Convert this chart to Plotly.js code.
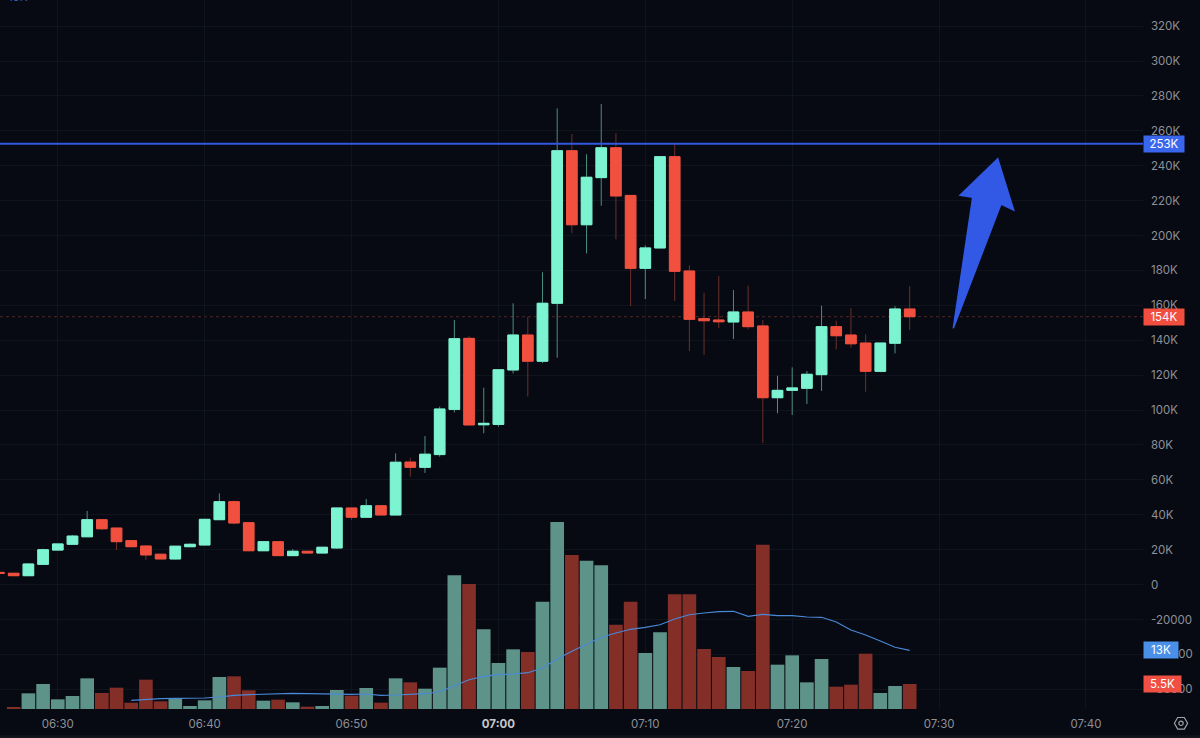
<!DOCTYPE html>
<html>
<head>
<meta charset="utf-8">
<script src="https://cdn.plot.ly/plotly-3.0.1.min.js"></script>
<style>html,body{margin:0;padding:0;background:#070a12;overflow:hidden}#chart{width:1200px;height:738px}</style>
</head>
<body>
<div id="chart"></div>
<script>
const minutes = ["06:26","06:27","06:28","06:29","06:30","06:31","06:32","06:33","06:34","06:35","06:36","06:37","06:38","06:39","06:40","06:41","06:42","06:43","06:44","06:45","06:46","06:47","06:48","06:49","06:50","06:51","06:52","06:53","06:54","06:55","06:56","06:57","06:58","06:59","07:00","07:01","07:02","07:03","07:04","07:05","07:06","07:07","07:08","07:09","07:10","07:11","07:12","07:13","07:14","07:15","07:16","07:17","07:18","07:19","07:20","07:21","07:22","07:23","07:24","07:25","07:26","07:27","07:28"];
const opens = [7000,6500,5100,11600,19800,23100,27400,37200,32400,25200,22100,17400,14700,21700,22700,37200,47500,35500,19400,24600,16600,19100,18100,21000,43900,38600,45200,39900,70200,67200,74500,100400,141100,91600,91800,123000,143000,128000,161200,248600,206200,233200,250300,223000,181200,192900,245200,179700,152400,151600,150500,156200,148200,107100,111300,112500,120300,147800,143000,138400,122200,138300,157900];
const highs = [7000,6600,12200,20600,23300,28400,42200,37200,32400,25200,22100,17400,22000,23500,37400,52300,48300,35500,24600,24600,20400,19100,21400,43900,43900,49000,45200,75200,72700,85100,102000,151600,142400,112800,123100,161200,153500,179000,272900,258200,246600,275400,258600,223000,194400,245200,252800,183000,167300,176800,168800,171300,151600,119700,124500,122400,159800,151200,158300,143400,138400,159500,171000];
const lows = [6500,5100,5100,11600,19800,23100,27400,31300,19800,21700,14100,14700,14300,21700,22700,37200,34500,19400,19400,16600,16600,18100,18100,20400,37100,38200,39900,39900,61800,64000,73300,98700,91500,86700,90500,121000,107700,127000,130000,201300,189800,217100,197800,159600,163600,192900,162500,133800,131600,146900,140700,146300,81000,98200,97200,103500,111000,134800,135700,110500,121700,132500,145900];
const closes = [6500,5100,11800,20000,23300,27800,37200,32000,24600,21700,17000,14700,22000,23100,37400,47500,35300,19400,24600,16600,19100,18100,21400,43900,38600,45200,39900,70100,67200,74700,100600,140900,91500,92400,123100,143000,128000,161200,248600,206200,233400,250300,222700,181200,192900,245200,179500,152000,151200,150600,156200,147800,107100,111300,112700,120500,147800,142600,138000,122200,138400,157900,153500];
const volumes = [null,443,3470,5537,2141,2880,6792,3544,4725,1403,6497,1698,2436,664,1920,7088,7235,4134,1846,2067,1477,517,664,4208,2953,4651,1403,6792,5906,4504,9155,29606,27686,17645,10188,13215,12625,23773,41419,34109,32854,31821,18679,23773,12403,16981,25397,25397,13289,11517,9302,8417,36398,9819,11886,5906,11074,4947,5390,12256,3544,5094,5537];
const volumeMA = [null,null,null,null,null,null,null,null,null,1920,2141,2289,2363,2363,2436,2658,3027,3175,3285,3396,3470,3396,3322,3249,3249,3322,3027,3101,3249,3396,3839,5242,6497,7235,7605,7752,8047,9081,11074,12773,14249,15873,16833,17645,18088,18679,19934,20894,21263,21558,21632,20525,20968,20672,20672,20377,20303,19270,17498,16390,15061,13659,12994];
const priceTicks = [320000,300000,280000,260000,240000,220000,200000,180000,160000,140000,120000,100000,80000,60000,40000,20000,0,-20000,-40000,-60000];
const priceTickLabels = ["320K","300K","280K","260K","240K","220K","200K","180K","160K","140K","120K","100K","80K","60K","40K","20K","0","-20000","-40000","-60000"];
const timeTicks = ["06:30","06:40","06:50","07:00","07:10","07:20","07:30","07:40"];
const timeTickLabels = ["06:30","06:40","06:50","<b style='color:#c4c6ca'>07:00</b>","07:10","07:20","07:30","07:40"];
const resistanceLevel = 252600;
const lastPrice = 153500;
const lastVolumeMA = 12994;
const lastVolume = 5537;

const plotW = 1143, plotH = 709;
const day = "2024-01-01 ";
const times = minutes.map(m => day + m);
const GREEN = "#7df4d1", RED = "#f2503f";
const px = (x, y) => [x / plotW, 1 - y / plotH];
const pathOf = (pts, close) => pts.map((p, i) => { const q = px(p[0], p[1]); return (i ? "L" : "M") + q[0] + "," + q[1]; }).join(" ") + (close ? " Z" : "");
const arrowPts = [[997.7,158.7],[960,195.3],[972.7,197.3],[953.3,328.3],[1001,204],[1013.7,210]];
const gearHex = [[1174.4,723.3],[1177.7,717.5],[1184.3,717.5],[1187.6,723.3],[1184.3,729.1],[1177.7,729.1]];

const data = [
  {type:"bar", x:times, y:volumes, yaxis:"y2", width:60000*0.93,
   marker:{color:closes.map((c,i)=> c>=opens[i] ? "#5e9389" : "#832f28"), line:{width:0}}, hoverinfo:"skip"},
  {type:"candlestick", x:times, open:opens, high:highs, low:lows, close:closes, whiskerwidth:0,
   increasing:{line:{color:"#4a8f80",width:1}, fillcolor:"rgba(0,0,0,0)"},
   decreasing:{line:{color:"#6b302b",width:1}, fillcolor:"rgba(0,0,0,0)"}, hoverinfo:"skip"},
  {type:"candlestick", x:times, open:opens, close:closes,
   high:opens.map((o,i)=>Math.max(o,closes[i])), low:opens.map((o,i)=>Math.min(o,closes[i])), whiskerwidth:0,
   increasing:{line:{color:GREEN,width:1}, fillcolor:GREEN},
   decreasing:{line:{color:RED,width:1}, fillcolor:RED}, hoverinfo:"skip"},
  {type:"scatter", mode:"lines", x:times, y:volumeMA, yaxis:"y2", connectgaps:false,
   line:{color:"#4a88d8",width:1.1}, hoverinfo:"skip"}
];

const pill = (text, yref, y, color, w) => ({
  text, xref:"paper", x:1, xanchor:"left", yref, y, yanchor:"middle", showarrow:false,
  bgcolor:color, width:w, height:14, borderpad:1, align:"center",
  font:{family:"Inter, sans-serif", size:11.5, color:"#ffffff"}
});

const layout = {
  width:1200, height:738, showlegend:false,
  paper_bgcolor:"#070a12", plot_bgcolor:"#070a12",
  margin:{l:0, r:57, t:0, b:29, pad:0},
  font:{family:"Inter, sans-serif", size:11.5, color:"#8e9198"},
  boxgap:0.15, boxgroupgap:0.15,
  xaxis:{type:"date", range:[day+"06:26:04", day+"07:43:53"], rangeslider:{visible:false},
    tickmode:"array", tickvals:timeTicks.map(t=>day+t), ticktext:timeTickLabels,
    showgrid:true, gridcolor:"#10141c", gridwidth:1, zeroline:false, showline:false, ticks:"", ticklabelstandoff:6,
    tickfont:{family:"Inter, sans-serif", size:11.5, color:"#8e9198"}},
  yaxis:{side:"right", range:[-71281,334976], tickmode:"array", tickvals:priceTicks, ticktext:priceTickLabels,
    showgrid:true, gridcolor:"#10141c", gridwidth:1, zeroline:false, showline:false, ticks:"", ticklabelstandoff:7,
    tickfont:{family:"Inter, sans-serif", size:11.5, color:"#8e9198"}},
  yaxis2:{overlaying:"y", side:"left", range:[0,157044], visible:false, showgrid:false, zeroline:false},
  shapes:[
    {type:"line", xref:"paper", x0:0, x1:1, yref:"y", y0:lastPrice, y1:lastPrice, layer:"below", line:{color:"#4f2725",width:1,dash:"dot"}},
    {type:"line", xref:"paper", x0:0, x1:1, yref:"y", y0:resistanceLevel, y1:resistanceLevel, layer:"above", line:{color:"#3357e0",width:2}},
    {type:"path", xref:"paper", yref:"paper", path:pathOf(arrowPts,true), fillcolor:"#3259e6", line:{color:"#3259e6",width:1.5}, layer:"above"},
    {type:"path", xref:"paper", yref:"paper", path:pathOf(gearHex,true), fillcolor:"rgba(0,0,0,0)", line:{color:"#a0a2a8",width:1.2}, layer:"above"},
    {type:"circle", xref:"paper", yref:"paper", x0:1178.8/plotW, x1:1183.2/plotW, y0:1-725.5/plotH, y1:1-721.1/plotH, fillcolor:"rgba(0,0,0,0)", line:{color:"#a0a2a8",width:1.2}, layer:"above"},
    {type:"rect", xref:"paper", yref:"paper", x0:0, x1:1200/plotW, y0:1-735.3/plotH, y1:1-738/plotH, fillcolor:"#12151c", line:{width:0}, layer:"below"}
  ],
  annotations:[
    pill("253K","y",resistanceLevel,"#3a66ee",38),
    pill("154K","y",lastPrice,"#f04e3e",38),
    pill("13K","y2",lastVolumeMA,"#4a8fe8",32),
    pill("5.5K","y2",lastVolume,"#ef5043",35),
    {text:"15K", xref:"paper", yref:"paper", x:18/plotW, y:1, xanchor:"center", yanchor:"middle", yshift:3, showarrow:false,
     font:{family:"Inter, sans-serif", size:11.5, color:"#3a5aa8"}}
  ]
};

Plotly.newPlot("chart", data, layout, {displayModeBar:false, staticPlot:true});
</script>
</body>
</html>
